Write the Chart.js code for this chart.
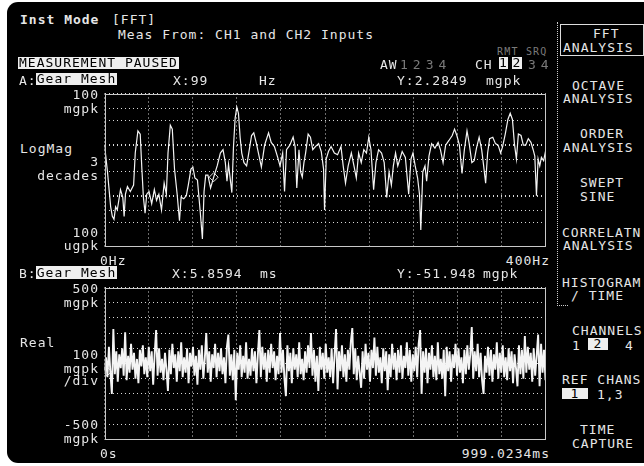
<!DOCTYPE html>
<html>
<head>
<meta charset="utf-8">
<script src="https://cdn.jsdelivr.net/npm/chart.js@4"></script>
<style>
  html, body { margin: 0; padding: 0; background: #fff; }
  #screen { position: absolute; left: 7px; top: 2px; width: 660px; height: 461px; background: #000; border-radius: 11px; overflow: hidden; }
  #page { position: absolute; left: 0; top: 0; width: 644px; height: 466px; }
  .t { position: absolute; font-family: "DejaVu Sans Mono", monospace; font-size: 13px; line-height: 13px; letter-spacing: 1px; color: #e6e6e6; white-space: pre; }
  .inv { background: #eee; color: #000; }
  .dim { color: #7a7a7a; }
  canvas { position: absolute; }
</style>
</head>
<body>
<div id="screen"></div>
<div id="page">
  <canvas id="traceA" width="452" height="164" style="left:99px; top:88px;"></canvas>
  <canvas id="traceB" width="452" height="163" style="left:99px; top:282px;"></canvas>
</div>
<script>
// Trace A: spectrum, LogMag (mgpk) vs frequency (Hz)
const freqHz = [0, 2.7, 5.6, 7.1, 8.6, 10.1, 11.6, 14.5, 16.6, 17.8, 19, 20.8, 23.4, 26.4, 27.9, 30.3, 32.4, 33.9, 35.3, 36.8,
  38.3, 40.4, 42.8, 45.2, 47.2, 49.3, 51.7, 54.1, 56.1, 57.6, 59.7, 61.5, 63.5, 65.9, 68, 69.5, 71.9, 74.2, 76, 78.4,
  80.2, 82, 84.3, 86.7, 88.8, 90.3, 91.8, 93.8, 96.2, 99, 102.2, 105.1, 107.5, 109.6, 111.1, 112.5, 115.5, 117, 118.5, 120,
  121.5, 123, 124.5, 126.5, 128.9, 130.4, 133.4, 135.4, 137.8, 140.2, 142.3, 145.2, 148.8, 151.2, 154.1, 157.1, 159.2, 161.6, 163.3, 165.1,
  168.1, 171.1, 172.9, 174.4, 176.4, 177.9, 179.4, 180.9, 182.4, 184.7, 186.8, 188.9, 191.3, 194.2, 196.6, 198.7, 199.6, 201.1, 203.1, 205.5,
  208.5, 211.4, 214.5, 216.5, 218.6, 221, 223.9, 226.3, 228.4, 230.5, 232.9, 235.2, 237.6, 239.7, 241.7, 244.1, 246.2, 248.6, 251.3, 253.7,
  256, 258.1, 260.2, 262, 264, 266, 270, 272.9, 275.9, 278, 279.8, 281.8, 284, 285.7, 286.9, 288.7, 290.7, 292.2, 294.3, 296.7,
  299.7, 302.6, 304.7, 307.1, 309.4, 312.4, 315.4, 317.5, 319.6, 321.9, 324.3, 326.4, 328.8, 330.8, 333.2, 335.3, 337.4, 339.8, 342.1, 343.9,
  345.7, 347.5, 349.3, 352.2, 354.6, 357, 359.3, 361.1, 363.5, 365.9, 368, 370, 371.8, 373.6, 375.4, 377.8, 379.9, 382, 384.4, 386.8,
  388.8, 390.3, 391.8, 393.3, 394.8, 396.3, 398.3, 400];
const magA = [10, 2.9, 0.60, 0.39, 0.34, 0.60, 0.52, 1.3, 0.92, 0.39, 1.06, 1.5, 1.2, 1.6, 6.8, 18.5, 16, 3.3, 0.92, 0.45,
  1.06, 1.2, 0.69, 1.3, 0.80, 1.06, 0.52, 1.75, 1.06, 6.8, 24, 20, 3.3, 1.06, 0.32, 0.92, 0.86, 0.99, 1.6, 3.3,
  3.6, 2.2, 2.0, 0.52, 0.14, 1.2, 2.5, 2.5, 1.4, 2.28, 3.8, 6.8, 7.9, 4.4, 1.9, 4.1, 1.14, 9.1, 33, 54,
  41, 13.9, 6.8, 4.4, 3.8, 5.9, 15, 17, 10.4, 5.9, 3.6, 9.7, 17, 11, 9.1, 5.6, 3.8, 6.8, 1.2, 7.9,
  9.7, 14, 9.1, 1.4, 7.9, 2.9, 2.3, 4.4, 6.8, 16, 13.9, 7.9, 9.1, 10.4, 7.3, 3.3, 0.52, 5.2, 7.3, 9.1,
  6.8, 6.3, 9.1, 3.8, 1.75, 3.8, 6.8, 3.8, 2.2, 6.8, 4.4, 7.9, 6.8, 13.9, 7.9, 1.3, 4.4, 7.9, 6.8, 4.4,
  0.92, 2.9, 1.6, 3.8, 6.8, 3.8, 7.3, 5.6, 1.06, 5.2, 6.8, 3.8, 2.2, 1.06, 0.21, 2.9, 3.8, 1.9, 5.9, 10.4,
  8.5, 11, 7.9, 4.4, 9.7, 12, 15, 20, 15, 9.7, 2.7, 7.9, 18.5, 10.4, 4.4, 4.8, 8.5, 13.9, 7.9, 3.8,
  1.75, 6.8, 13, 13.9, 10.4, 9.7, 6.8, 9.1, 16, 31, 41, 31, 10.4, 5.2, 16, 15, 9.7, 9.7, 13, 11,
  7.9, 5.9, 0.99, 5.2, 3.8, 5.6, 4.8, 7.3];
const freqTicks = [0, 40, 80, 120, 160, 200, 240, 280, 320, 360, 400];
const magTicks = [0.1, 0.3, 0.5, 1, 3, 5, 10, 30, 50, 100];
const markerA = { x: 99, y: 2.2849 };

// Trace B: time record, Real (mgpk) vs time (ms)
const recordMs = 999.0234;
const realB = [-52, 40, -90, 110, -60, -200, 227, -70, 80, -120, 60, -30, 100, -80, 206, -110, 50, -60, 130, -40,
  70, -100, 30, -130, 90, -20, 120, -70, 40, -90, 110, -50, 80, -140, 60, 220, -80, 100, -60, 30,
  -110, 70, -40, -180, 90, -70, 130, -30, 60, -120, 80, -50, 140, -90, 40, -60, 100, -130, 70, -20,
  110, -80, 50, -140, 90, -40, 120, -100, 30, 200, -60, 80, -120, 60, -30, 130, -90, 70, -50, 100,
  -70, 40, -130, 110, 190, -80, 60, -110, 90, -242, 70, -40, 120, -90, 50, -60, 140, -100, 30, -80,
  100, -50, 80, -130, 60, 220, -90, 110, -40, 70, -120, 90, -60, 130, -30, 80, -110, 50, -70, 200,
  -60, 90, -100, -215, 120, -50, 70, -130, 100, -40, 60, -90, 140, -70, 30, -110, 80, -60, 120, -30,
  200, -80, 90, -120, 50, -180, 110, -40, 70, -100, 130, -60, 40, -90, 100, -130, 60, 227, -170, 80,
  -50, 120, -90, 60, -120, 90, -40, 140, 233, -70, 100, -110, 50, -60, -160, 80, -100, 130, -40, 70,
  -120, 90, -30, 170, -80, 110, -60, 40, -130, 100, -50, 80, -175, 60, -90, 130, -40, 70, -110, 90,
  -60, 120, -100, 50, -30, 140, -80, 90, -120, 60, -50, 110, -90, 130, 220, -200, 80, -60, 100, -130,
  70, -40, 120, -90, 50, -110, 140, -70, 30, -100, 90, -215, 110, -50, 80, -120, 60, -30, 130, -80,
  100, -60, 40, -130, 90, -70, 120, -40, 60, 240, -100, 80, -50, 130, -90, 70, -110, -200, 50, -60,
  110, -80, 90, -120, 60, -40, 140, -100, 70, -60, 120, -90, 40, -110, 100, -50, 80, -130, 60, -30,
  -150, 120, -70, 90, -100, 180, -60, 110, -40, 70, -120, 100, -80, 50, 190, -150, 130, -60, 90, -110];
const timeTicks = [0, 1, 2, 3, 4, 5, 6, 7, 8, 9, 10].map(d => d * recordMs / 10);
const realTicks = [-500, -400, -300, -200, -100, 0, 100, 200, 300, 400, 500];
const markerB = { x: 5.8594, y: -51.948 };

// cadre plein autour de la zone de tracé
const frame = {
  id: 'frame',
  afterDraw(chart) {
    const a = chart.chartArea, c = chart.ctx;
    c.save();
    c.strokeStyle = '#c8c8c8';
    c.lineWidth = 1;
    c.strokeRect(Math.round(a.left) + 0.5, Math.round(a.top) + 0.5, Math.round(a.right - a.left) - 1, Math.round(a.bottom - a.top) - 1);
    c.restore();
  }
};

function gridScale(extra, ticks, heavy) {
  return Object.assign({
    afterBuildTicks: s => { s.ticks = ticks.map(v => ({ value: v })); },
    ticks: { display: false },
    grid: {
      color: '#d8d8d8',
      lineWidth: ctx => (heavy && ctx.tick && heavy.includes(ctx.tick.value)) ? 2 : 1,
      drawTicks: false, tickLength: 0
    },
    border: { display: false, dash: [1, 3] }
  }, extra);
}

function makeChart(id, points, marker, xs, ys, lw) {
  return new Chart(document.getElementById(id), {
    type: 'line',
    data: {
      datasets: [
        { data: points, borderColor: '#f4f4f4', borderWidth: lw, pointRadius: 0, tension: 0 },
        { data: [marker], showLine: false, pointStyle: 'rectRot', pointRadius: 4.5, borderColor: '#e0e0e0', borderWidth: 1, backgroundColor: '#000' }
      ]
    },
    options: {
      responsive: false,
      animation: false,
      layout: { padding: 1 },
      plugins: { legend: { display: false }, tooltip: { enabled: false } },
      scales: { x: xs, y: ys }
    },
    plugins: [frame]
  });
}

makeChart('traceA', freqHz.map((f, i) => ({ x: f, y: magA[i] })), markerA,
  gridScale({ type: 'linear', min: 0, max: 400 }, freqTicks),
  gridScale({ type: 'logarithmic', min: 0.1, max: 100 }, magTicks, [1, 10]), 1.2);

makeChart('traceB', realB.map((v, i) => ({ x: i * recordMs / (realB.length - 1), y: v })), markerB,
  gridScale({ type: 'linear', min: 0, max: recordMs }, timeTicks),
  gridScale({ type: 'linear', min: -500, max: 500 }, realTicks), 1.9);

// textes de l'écran
const page = document.getElementById('page');
function txt(s, x, y, cls, extra) {
  const d = document.createElement('div');
  d.className = 't' + (cls ? ' ' + cls : '');
  d.textContent = s;
  d.style.left = x + 'px';
  d.style.top = y + 'px';
  if (extra) Object.assign(d.style, extra);
  page.appendChild(d);
  return d;
}
function rtxt(s, right, y, cls) {
  return txt(s, right - 200, y, cls, { width: '200px', textAlign: 'right', letterSpacing: '1px' });
}
function box(s, x, y, w, h, extra) {
  return txt(s, x, y, 'inv', Object.assign({ width: w + 'px', height: h + 'px', lineHeight: h + 'px', textAlign: 'center' }, extra || {}));
}

txt('Inst Mode', 20, 13, '', { fontWeight: 'bold' });
txt('[FFT]', 112, 13);
txt('Meas From: CH1 and CH2 Inputs', 118, 28);
txt('RMT SRQ', 497, 47, 'dim', { fontSize: '10px', lineHeight: '10px', letterSpacing: '1.2px' });
box('MEASUREMENT PAUSED', 18, 57, 161, 12, { textAlign: 'left', paddingLeft: '1px', width: '160px' });
txt('AW', 380, 58);
txt('1234', 400, 58, 'dim', { letterSpacing: '5px' });
txt('CH', 475, 58);
box('1', 499, 57, 9, 12);
box('2', 512, 57, 10, 12);
txt('34', 528, 58, 'dim', { letterSpacing: '5px' });

// trace A
txt('A:', 19, 74);
box('Gear Mesh', 36, 73, 81, 12);
txt('X:99', 173, 74);
txt('Hz', 259, 74);
txt('Y:2.2849', 397, 74);
txt('mgpk', 486, 74);
rtxt('100', 99, 88);
rtxt('mgpk', 99, 102);
txt('LogMag', 20, 142);
rtxt('3', 99, 155);
rtxt('decades', 99, 169);
rtxt('100', 99, 226);
rtxt('ugpk', 99, 239);
txt('0Hz', 100, 254);
rtxt('400Hz', 550, 254);

// trace B
txt('B:', 19, 267);
box('Gear Mesh', 36, 266, 81, 13);
txt('X:5.8594', 172, 267);
txt('ms', 260, 267);
txt('Y:-51.948', 397, 267);
txt('mgpk', 483, 267);
rtxt('500', 99, 282);
rtxt('mgpk', 99, 296);
txt('Real', 20, 336);
rtxt('100', 99, 348);
rtxt('mgpk', 99, 362);
rtxt('/div', 99, 374);
rtxt('-500', 99, 418);
rtxt('mgpk', 99, 432);
txt('0s', 100, 447);
rtxt('999.0234ms', 550, 447);

// menu de droite
const rule = document.createElement('div');
Object.assign(rule.style, { position: 'absolute', left: '557px', top: '22px', width: '10px', height: '283px', borderLeft: '1px dotted #ccc', borderBottom: '1px dotted #ccc' });
page.appendChild(rule);
const fftBox = document.createElement('div');
Object.assign(fftBox.style, { position: 'absolute', left: '560px', top: '24px', width: '82px', height: '30px', border: '1px solid #ddd' });
page.appendChild(fftBox);

const menu = [
  ['FFT', 593, 27], ['ANALYSIS', 563, 41],
  ['OCTAVE', 572, 79], ['ANALYSIS', 563, 92],
  ['ORDER', 580, 127], ['ANALYSIS', 563, 141],
  ['SWEPT', 580, 176], ['SINE', 580, 190],
  ['CORRELATN', 562, 226], ['ANALYSIS', 563, 239],
  ['HISTOGRAM', 562, 276], ['/ TIME', 571, 289],
  ['CHANNELS', 572, 324], ['1', 572, 339], ['4', 625, 339],
  ['REF CHANS', 562, 373], ['1,3', 597, 388],
  ['TIME', 580, 423], ['CAPTURE', 572, 437]
];
menu.forEach(m => txt(m[0], m[1], m[2]));
box('2', 588, 338, 20, 12);
box('1', 562, 388, 26, 11);
</script>
</body>
</html>
